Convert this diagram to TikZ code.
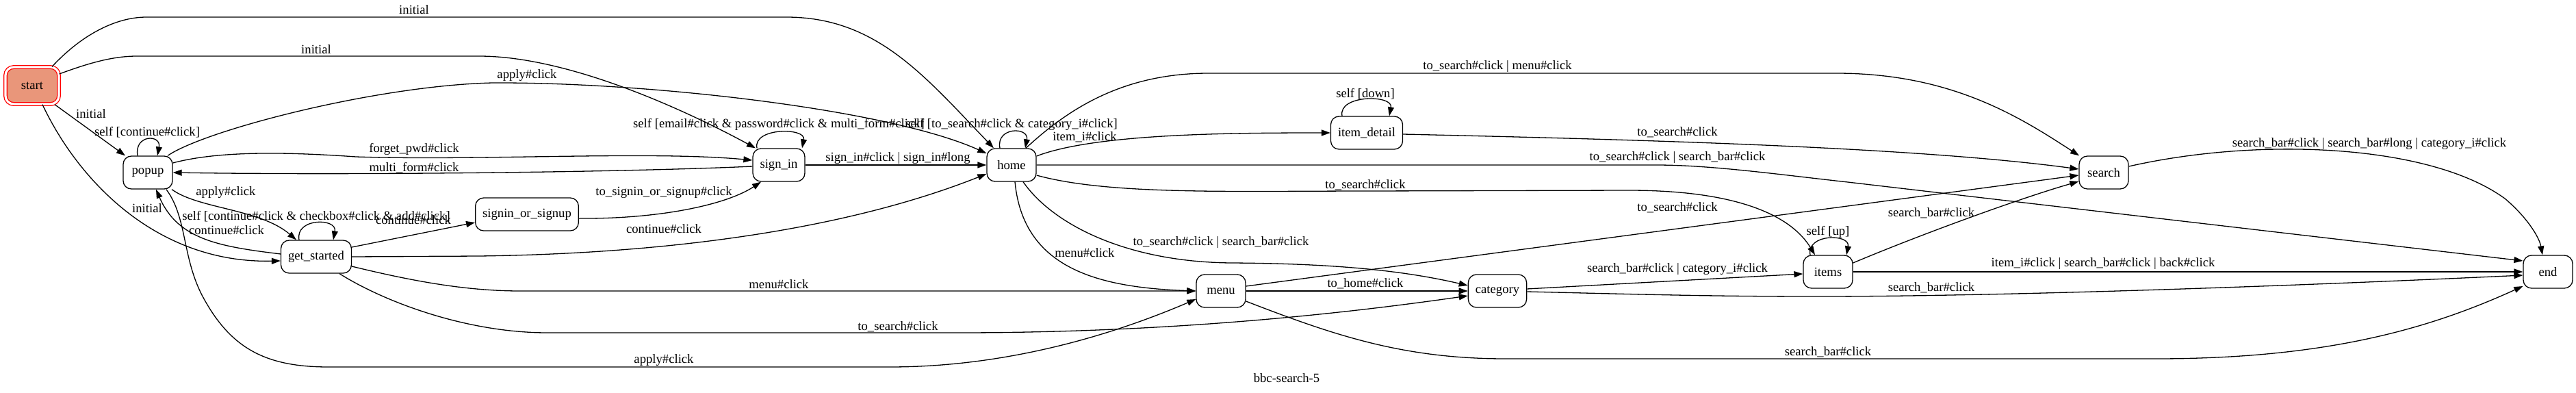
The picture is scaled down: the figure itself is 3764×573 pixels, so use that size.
\documentclass[tikz,border=0pt]{standalone}
\usepackage{fontspec}
\setmainfont{Liberation Serif}
\usetikzlibrary{arrows.meta}
\definecolor{startfill}{RGB}{233,150,122}
\begin{document}
\begin{tikzpicture}[x=1pt,y=-1pt,
  font=\fontsize{18.67}{22}\selectfont,
  st/.style={draw, line width=1.3pt, rounded corners=12pt, minimum width=72pt,
    minimum height=48pt, inner xsep=10.5pt, inner ysep=0pt},
  startst/.style={st, fill=startfill, draw=red, double=white, double distance=3.2pt,
    minimum width=78pt, minimum height=54pt},
  lbl/.style={inner sep=0pt},
  e/.style={draw, line width=1.3pt, -{Triangle[length=13pt,width=9pt]}}]
\useasboundingbox (0,0) rectangle (3764,573);

% nodes
\node[startst] (nstart) at (47,125) {start};
\node[st] (npopup) at (216,252) {popup};
\node[st] (ngs) at (462,375) {get\_started};
\node[st] (nsos) at (770,313) {signin\_or\_signup};
\node[st] (nsignin) at (1138,241) {sign\_in};
\node[st] (nhome) at (1478,241) {home};
\node[st] (nitem) at (1997,194) {item\_detail};
\node[st] (nmenu) at (1784,425) {menu};
\node[st] (ncat) at (2188,425) {category};
\node[st] (nitems) at (2671,397) {items};
\node[st] (nsearch) at (3074,252) {search};
\node[st] (nend) at (3723,397) {end};

% edges
\draw[e] ([xshift=29pt]nstart.north) .. controls (120,50) and (170,25) .. (214,25) -- (1149,25) .. controls (1280,25) and (1350,110) .. ([xshift=-26pt]nhome.north);
\draw[e] ([yshift=17pt]nstart.east) .. controls (130,92) and (165,82) .. (200,82) -- (700,82) .. controls (830,82) and (1000,160) .. ([xshift=-34pt]nsignin.north);
\draw[e] ([xshift=33pt]nstart.south) -- ([xshift=-33pt]npopup.north);
\draw[e] ([xshift=15pt]nstart.south) .. controls (115,265) and (230,385) .. ([yshift=-6pt]ngs.west);
\draw[e] ([xshift=-15pt]npopup.north) .. controls (196,196) and (236,196) .. ([xshift=14pt]npopup.north);
\draw[e] ([xshift=29pt]npopup.north) .. controls (300,190) and (550,125) .. (720,121) .. controls (950,120) and (1300,160) .. ([yshift=17pt]nhome.west);
\draw[e] ([yshift=14pt]npopup.east) .. controls (320,220) and (420,222) .. (520,229) .. controls (700,235) and (950,220) .. ([yshift=7pt]nsignin.west);
\draw[e] ([yshift=-2pt]nsignin.west) .. controls (900,252) and (500,256) .. (npopup.east);
\draw[e] ([xshift=-32pt]nsignin.north) .. controls (1100,186) and (1178,186) .. ([xshift=34pt]nsignin.north);
\draw[e] (nsignin.east) -- (nhome.west);
\draw[e] ([yshift=-6pt]nsos.east) .. controls (960,320) and (1060,300) .. ([xshift=-26pt]nsignin.south);
\draw[e] ([xshift=35pt]npopup.south) .. controls (290,305) and (380,305) .. ([xshift=-29pt]ngs.north);
\draw[e] ([xshift=-25pt]ngs.north) .. controls (431,318) and (493,318) .. ([xshift=25pt]ngs.north);
\draw[e] ([yshift=4pt]ngs.west) .. controls (320,360) and (260,350) .. ([xshift=12pt]npopup.south);
\draw[e] ([yshift=14pt]ngs.east) -- ([yshift=-12pt]nsos.west);
\draw[e] (ngs.east) -- (700,374) .. controls (1000,370) and (1250,330) .. ([yshift=-13pt]nhome.west);
\draw[e] ([yshift=-14pt]ngs.east) .. controls (600,410) and (680,425) .. (760,425) -- (nmenu.west);
\draw[e] ([xshift=34pt]ngs.south) .. controls (560,440) and (680,486) .. (800,486) -- (1400,486) .. controls (1700,486) and (1950,460) .. ([yshift=-7pt]ncat.west);
\draw[e] ([xshift=27pt]npopup.south) .. controls (275,320) and (265,380) .. (300,440) .. controls (340,510) and (390,536) .. (480,536) -- (1300,536) .. controls (1450,536) and (1600,500) .. ([yshift=-12pt]nmenu.west);
\draw[e] ([xshift=-17pt]nhome.north) .. controls (1455,185) and (1504,185) .. ([xshift=20pt]nhome.north);
\draw[e] ([yshift=13pt]nhome.east) .. controls (1600,195) and (1800,194) .. (nitem.west);
\draw[e] ([xshift=21pt]nhome.north) .. controls (1560,160) and (1640,107) .. (1766,107) -- (2683,107) .. controls (2850,107) and (2950,170) .. ([xshift=-36pt]nsearch.north);
\draw[e] ([xshift=-36pt]nitem.north) .. controls (1955,138) and (2036,138) .. ([xshift=33pt]nitem.north);
\draw[e] ([yshift=-2pt]nitem.east) .. controls (2400,204) and (2800,215) .. ([yshift=5pt]nsearch.west);
\draw[e] (nhome.east) -- (2420,241) .. controls (2500,241) and (2600,255) .. (2700,266) -- ([yshift=16pt]nend.west);
\draw[e] ([yshift=-15pt]nhome.east) .. controls (1620,285) and (1800,279) .. (2000,279) -- (2380,278) .. controls (2550,278) and (2620,320) .. ([xshift=-19pt]nitems.north);
\draw[e] ([xshift=17pt]nhome.south) .. controls (1540,330) and (1650,383) .. (1800,384) .. controls (1950,385) and (2050,395) .. ([yshift=8pt]ncat.west);
\draw[e] ([xshift=5pt]nhome.south) .. controls (1495,390) and (1600,420) .. (nmenu.west);
\draw[e] ([yshift=7pt]nmenu.east) -- ([yshift=-4pt]nsearch.west);
\draw[e] (nmenu.east) -- (ncat.west);
\draw[e] ([yshift=-15pt]nmenu.east) .. controls (1950,490) and (2050,524) .. (2200,524) -- (3150,524) .. controls (3400,524) and (3550,480) .. ([yshift=-21pt]nend.west);
\draw[e] ([yshift=3pt]ncat.east) -- ([yshift=-3pt]nitems.west);
\draw[e] ([yshift=-1pt]ncat.east) .. controls (2400,430) and (2500,433) .. (2657,433) .. controls (2900,433) and (3300,420) .. ([yshift=-5pt]nend.west);
\draw[e] ([xshift=-26pt]nitems.north) .. controls (2639,341) and (2704,341) .. ([xshift=27pt]nitems.north);
\draw[e] ([yshift=13pt]nitems.east) .. controls (2800,345) and (2950,290) .. ([yshift=-13pt]nsearch.west);
\draw[e] (nitems.east) -- (nend.west);
\draw[e] ([yshift=9pt]nsearch.east) .. controls (3300,200) and (3550,210) .. (3660,290) .. controls (3690,315) and (3710,345) .. ([xshift=-8pt]nend.north);

% labels
\node[lbl] (l1) at (605,14) {initial};
\node[lbl] (l2) at (462,72) {initial};
\node[lbl] (l3) at (133,166) {initial};
\node[lbl] (l4) at (215,304) {initial};
\node[lbl] (l5) at (215,193) {self [continue\#click]};
\node[lbl] (l6) at (605,218) {forget\_pwd\#click};
\node[lbl] (l7) at (605,245) {multi\_form\#click};
\node[lbl] (l8) at (330,281) {apply\#click};
\node[lbl] (l9) at (462,316) {self [continue\#click \& checkbox\#click \& add\#click]};
\node[lbl] (l10) at (331,336) {continue\#click};
\node[lbl] (l11) at (604,321) {continue\#click};
\node[lbl] (l12) at (770,110) {apply\#click};
\node[lbl] (l13) at (1138,182) {self [email\#click \& password\#click \& multi\_form\#click]};
\node[lbl] (l14) at (1312,231) {sign\_in\#click | sign\_in\#long};
\node[lbl] (l15) at (970,281) {to\_signin\_or\_signup\#click};
\node[lbl] (l16) at (970,334) {continue\#click};
\node[lbl] (l17) at (1138,415) {menu\#click};
\node[lbl] (l18) at (1312,477) {to\_search\#click};
\node[lbl] (l19) at (970,526) {apply\#click};
\node[lbl] (l20) at (1478,182) {self [to\_search\#click \& category\_i\#click]};
\node[lbl] (l21) at (1585,200) {item\_i\#click};
\node[lbl] (l22) at (2188,97) {to\_search\#click | menu\#click};
\node[lbl] (l23) at (1995,137) {self [down]};
\node[lbl] (l24) at (2451,193) {to\_search\#click};
\node[lbl] (l25) at (2451,230) {to\_search\#click | search\_bar\#click};
\node[lbl] (l26) at (1995,270) {to\_search\#click};
\node[lbl] (l27) at (1784,354) {to\_search\#click | search\_bar\#click};
\node[lbl] (l28) at (1585,369) {menu\#click};
\node[lbl] (l29) at (2451,303) {to\_search\#click};
\node[lbl] (l30) at (1995,414) {to\_home\#click};
\node[lbl] (l31) at (2671,514) {search\_bar\#click};
\node[lbl] (l32) at (2451,393) {search\_bar\#click | category\_i\#click};
\node[lbl] (l33) at (2822,420) {search\_bar\#click};
\node[lbl] (l34) at (2671,339) {self [up]};
\node[lbl] (l35) at (2822,311) {search\_bar\#click};
\node[lbl] (l36) at (3073,385) {item\_i\#click | search\_bar\#click | back\#click};
\node[lbl] (l37) at (3462,210) {search\_bar\#click | search\_bar\#long | category\_i\#click};
\node[lbl] (title) at (1880,552) {bbc-search-5};
\end{tikzpicture}
\end{document}
